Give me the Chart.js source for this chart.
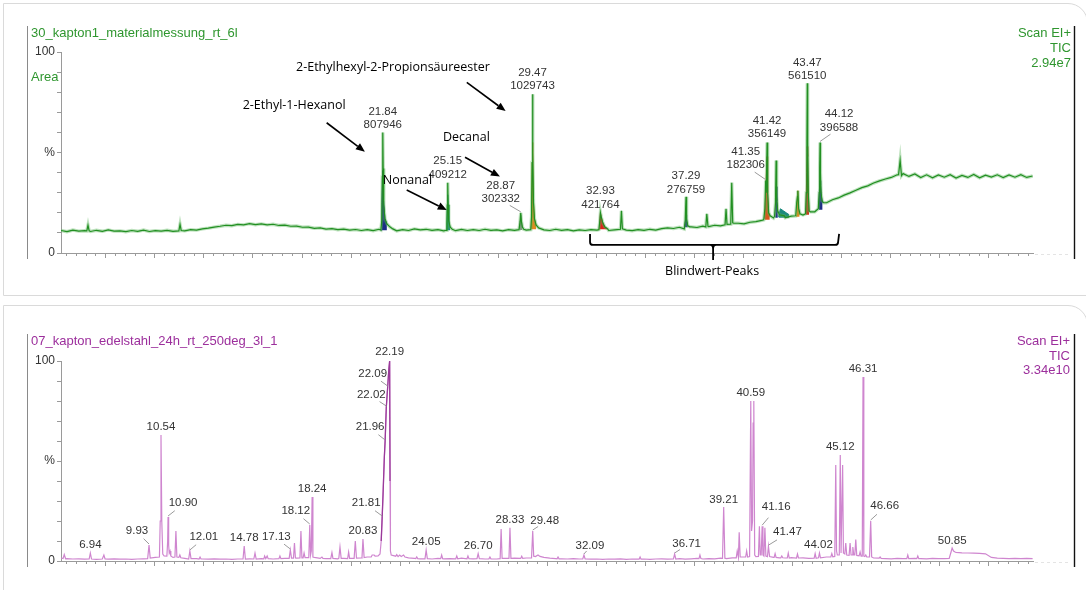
<!DOCTYPE html>
<html>
<head>
<meta charset="utf-8">
<script src="https://cdn.jsdelivr.net/npm/chart.js@4.4.1/dist/chart.umd.min.js"></script>
<style>
  html, body { margin: 0; padding: 0; background: #fff; width: 1086px; height: 590px; overflow: hidden; }
  .panel { position: absolute; left: 3px; width: 1085px; border: 1.5px solid #dadada; border-top-right-radius: 20px; box-sizing: border-box; }
  #p1 { top: 3px; height: 293px; }
  #p2 { top: 305px; height: 320px; }
  .box { position: absolute; left: 0; }
  #b1 { top: 0; }
  #b2 { top: 300px; }
</style>
</head>
<body>
<div class="panel" id="p1"></div>
<div class="panel" id="p2"></div>
<div class="box" id="b1"><canvas id="c1" width="1086" height="295"></canvas></div>
<div class="box" id="b2"><canvas id="c2" width="1086" height="290"></canvas></div>
<script>
// Zeitachse (min) – beide Chromatogramme teilen dieselbe Skala
const X_MIN = 5.445, X_MAX = 54.97;
const SCAN_START = 5.45, SCAN_STEP = 0.3;
const TICK_START = 7.7, TICK_MAJOR = 2.5, TICK_MINOR = 0.5;
const yTickLabels = { 100: '100', 50: '%', 0: '0' };

// ---------- oben: 30_kapton1_materialmessung_rt_6l ----------
const topBase = [
  11.2, 10.6, 11.4, 10.9, 11.1, 10.7, 11.3, 10.8, 11.5, 10.9,
  11.0, 10.6, 11.2, 10.8, 11.4, 10.7, 11.1, 10.9, 11.3, 10.8,
  11.2, 11.0, 11.6, 11.4, 12.0, 12.4, 12.9, 13.3, 13.8, 13.6,
  14.2, 14.0, 14.6, 14.1, 14.5, 14.0, 14.3, 13.7, 13.9, 13.3,
  13.4, 12.8, 12.9, 12.3, 12.5, 11.9, 12.1, 11.6, 11.9, 11.4,
  11.7, 11.2, 11.6, 11.1, 11.8, 11.3, 11.5, 11.0, 11.6, 11.2,
  12.0, 11.5, 11.8, 11.3, 11.6, 11.0, 11.5, 11.1, 11.7, 11.2,
  11.6, 11.2, 11.8, 11.3, 11.5, 11.0, 11.6, 11.3, 11.8, 11.4,
  11.7, 11.1, 11.5, 11.2, 11.8, 11.3, 11.6, 11.0, 11.5, 11.2,
  11.6, 11.4, 11.9, 11.2, 11.5, 11.0, 11.4, 11.1, 11.6, 11.3,
  11.8, 11.4, 12.1, 12.5, 12.2, 12.8, 12.4, 13.0, 12.7, 13.4,
  13.1, 13.8, 13.5, 14.3, 14.0, 14.8, 14.5, 15.3, 15.6, 16.2,
  16.8, 17.4, 17.9, 17.5, 18.3, 18.0, 18.9, 19.4, 20.5, 22.0,
  25.0, 26.5, 27.4, 28.8, 29.9, 31.2, 32.5, 33.4, 34.8, 35.9,
  36.8, 37.6, 38.9, 39.5, 38.1, 39.3, 37.5, 38.9, 37.4, 38.8,
  37.7, 39.0, 37.3, 38.6, 37.6, 39.1, 37.4, 38.7, 37.8, 38.9,
  37.5, 38.8, 37.7, 39.0, 37.6, 38.3
];
const topPeaks = [
  [[6.76, 11], [6.82, 13.8], [6.88, 11]],
  [[11.45, 11], [11.51, 14.2], [11.57, 11.2]],
  [[21.74, 11.4], [21.79, 16], [21.82, 38], [21.84, 60], [21.86, 42], [21.89, 24], [21.95, 17], [22.05, 14.5], [22.2, 13], [22.35, 12]],
  [[25.07, 11.3], [25.11, 15], [25.13, 24], [25.15, 35], [25.17, 24], [25.2, 16], [25.27, 13], [25.38, 11.8]],
  [[28.78, 11.6], [28.83, 15], [28.87, 20], [28.9, 16], [28.95, 13], [29.02, 11.8]],
  [[29.38, 11.6], [29.42, 18], [29.45, 45], [29.47, 79], [29.49, 50], [29.52, 25], [29.57, 17], [29.65, 14], [29.78, 12.5]],
  [[32.85, 11.6], [32.9, 16], [32.93, 20], [32.97, 18], [33.05, 15], [33.15, 13], [33.3, 12]],
  [[33.95, 11.8], [34.0, 21], [34.05, 12]],
  [[37.2, 12], [37.25, 16], [37.29, 28], [37.32, 17], [37.38, 13.5], [37.48, 13]],
  [[38.3, 13], [38.35, 19.5], [38.41, 13.3]],
  [[39.28, 14], [39.33, 22], [39.38, 14.2]],
  [[39.57, 14.3], [39.62, 35], [39.67, 15], [39.72, 14.8]],
  [[41.25, 16.5], [41.31, 22], [41.35, 36], [41.38, 30], [41.42, 55], [41.45, 30], [41.5, 20], [41.58, 18.5]],
  [[41.8, 18.2], [41.85, 25], [41.88, 46], [41.91, 28], [41.96, 21], [42.05, 19], [42.3, 18.5]],
  [[42.88, 18.5], [42.93, 25], [42.97, 28], [42.99, 31], [43.03, 22], [43.1, 19.5]],
  [[43.38, 19.5], [43.42, 30], [43.45, 55], [43.47, 84.5], [43.49, 55], [43.52, 30], [43.56, 21], [43.62, 20.5]],
  [[44.03, 22], [44.08, 30], [44.1, 42], [44.12, 55], [44.14, 40], [44.17, 30], [44.22, 26], [44.3, 25]],
  [[48.12, 39], [48.2, 46], [48.27, 38.5]]
];
// integrierte Peakflächen (farbig)
const topFills = [
  [[21.76, 11.4], [21.8, 25], [21.83, 41], [21.85, 41], [21.88, 26], [21.95, 17], [22.05, 14.5]],
  [[25.1, 11.5], [25.13, 24], [25.15, 29], [25.17, 24], [25.21, 15], [25.28, 12.5]],
  [[28.8, 11.8], [28.84, 16], [28.87, 19], [28.9, 16], [28.96, 12.5]],
  [[29.41, 12], [29.45, 45], [29.47, 55], [29.49, 50], [29.52, 25], [29.57, 17], [29.66, 13.5]],
  [[32.87, 12], [32.9, 16], [32.93, 20], [32.97, 18], [33.05, 15], [33.15, 13], [33.28, 12]],
  [[37.23, 13], [37.27, 17], [37.29, 19], [37.32, 16], [37.38, 13.5]],
  [[41.3, 17], [41.35, 30], [41.4, 45], [41.42, 48], [41.45, 30], [41.5, 20], [41.56, 18]],
  [[41.84, 18], [41.87, 30], [41.89, 33], [41.92, 26], [41.97, 20]],
  [[42.0, 18], [42.1, 22], [42.25, 21], [42.4, 20], [42.55, 19]],
  [[42.9, 18.5], [42.94, 25], [42.99, 31], [43.03, 22], [43.08, 19]],
  [[43.4, 19.5], [43.44, 40], [43.47, 53], [43.49, 48], [43.52, 30], [43.56, 21]],
  [[44.05, 22], [44.09, 32], [44.12, 36], [44.15, 34], [44.19, 28], [44.25, 25]]
];
const topFillBase = [11.3, 11.3, 11.5, 11.8, 11.8, 12.8, 16.5, 17.5, 17.5, 18, 19, 21.5];
const topFillColors = ['#1c2d86', '#1a8a7e', '#8d8d8d', '#e38a1d', '#e3211c', '#1c2d86',
  '#d9561d', '#1c2d86', '#1a8a7e', '#e38a1d', '#d0321c', '#1c2d86'];

const topLabelTimes = ['21.84', '25.15', '28.87', '29.47', '32.93', '37.29', '41.35', '41.42', '43.47', '44.12'];
const topLabelAreas = ['807946', '409212', '302332', '1029743', '421764', '276759', '182306', '356149', '561510', '396588'];
const topLabelApex = [[21.84, 60], [25.15, 35], [28.87, 20], [29.47, 79], [32.93, 20], [37.29, 28], [41.35, 36], [41.42, 55], [43.47, 84.5], [44.12, 55]];
const topLabelShift = [[0, -7.5], [0, -8], [-20, -13.5], [0, -8], [0, -8], [0, -7], [-20, -15.5], [0, -8.5], [0, -7], [19, -15]];

// Substanz-Annotationen (Text links/mitte, Pfeil von -> nach), in (min, %)
const noteTexts = ['2-Ethylhexyl-2-Propionsäureester', '2-Ethyl-1-Hexanol', 'Decanal', 'Nonanal'];
const noteAt = [[17.42, 92.5], [14.70, 73.6], [24.91, 57.7], [21.84, 36.3]];
const arrowFrom = [[26.12, 84.9], [18.98, 64.8], [26.03, 47.6], [23.06, 31.3]];
const arrowTo = [[28.10, 70.6], [20.93, 50.4], [27.81, 38.0], [25.10, 21.4]];
const blankText = 'Blindwert-Peaks';
const blankRange = [32.40, 38.67, 45.04];

// ---------- unten: 07_kapton_edelstahl_24h_rt_250deg_3l_1 ----------
const botBase = [
  1.5, 1.2, 1.0, 1.1, 0.9, 1.0, 0.8, 1.0, 0.9, 1.1,
  0.9, 1.0, 0.8, 1.0, 1.1, 1.3, 1.8, 2.2, 2.0, 1.8,
  1.6, 1.3, 1.1, 1.2, 1.0, 0.9, 1.1, 0.9, 1.0, 0.8,
  1.0, 0.9, 1.1, 1.0, 1.2, 0.9, 1.0, 1.1, 1.3, 1.2,
  1.4, 1.6, 1.5, 1.8, 1.3, 1.2, 1.4, 1.1, 1.3, 1.2,
  1.4, 1.6, 2.0, 2.6, 2.5, 2.8, 2.4, 2.6, 2.0, 1.6,
  1.3, 1.1, 1.2, 1.0, 1.3, 1.1, 1.2, 1.0, 1.4, 1.2,
  1.1, 1.3, 1.0, 1.2, 1.0, 1.3, 1.1, 1.4, 1.2, 1.5,
  2.2, 2.5, 1.8, 1.4, 1.2, 1.1, 1.0, 1.2, 1.0, 1.1,
  0.9, 1.0, 0.8, 1.0, 0.9, 1.1, 0.8, 1.0, 0.9, 1.0,
  0.8, 1.0, 1.1, 0.9, 1.0, 1.2, 0.9, 1.1, 1.3, 1.0,
  1.2, 1.1, 1.4, 1.2, 1.6, 1.8, 2.0, 2.2, 2.5, 2.2,
  2.0, 1.8, 1.6, 1.5, 1.7, 1.4, 1.6, 1.3, 1.5, 1.8,
  2.0, 2.2, 2.5, 2.8, 2.4, 2.6, 2.2, 1.8, 1.5, 1.3,
  1.2, 1.1, 1.3, 1.2, 1.4, 1.3, 1.2, 1.1, 1.3, 1.2,
  1.2, 1.3, 4.3, 4.1, 4.0, 3.9, 3.8, 3.6, 1.8, 1.4,
  1.3, 1.2, 1.3, 1.2, 1.3, 1.2
];
const mainPeak = [[21.6, 2.5], [21.7, 3.5], [21.76, 10], [21.81, 22], [21.86, 35], [21.92, 52], [21.96, 60],
  [22.02, 77], [22.09, 87], [22.15, 96], [22.19, 100], [22.21, 40], [22.23, 5], [22.27, 3]];
const botPeaks = [
  [[5.55, 1.2], [5.61, 3.2], [5.68, 1.1]],
  [[6.88, 1.0], [6.94, 4.0], [7.0, 1.0]],
  [[7.57, 1.0], [7.63, 3.0], [7.69, 1.0]],
  [[9.86, 1.2], [9.93, 8.0], [9.99, 1.5]],
  [[10.46, 2.0], [10.5, 20], [10.54, 63], [10.58, 20], [10.63, 3.5], [10.7, 2.5]],
  [[10.84, 2.4], [10.88, 10], [10.9, 22], [10.93, 8], [10.96, 4], [11.0, 5], [11.04, 2.5]],
  [[11.25, 2.0], [11.3, 15], [11.35, 2.0], [11.45, 1.8], [11.5, 3.0], [11.55, 1.6]],
  [[11.95, 1.0], [12.01, 5], [12.07, 1.2]],
  [[12.48, 1.0], [12.53, 2], [12.58, 1.0]],
  [[14.72, 1.0], [14.78, 7.5], [14.84, 1.0]],
  [[15.27, 1.0], [15.33, 4], [15.39, 1.0]],
  [[15.78, 1.1], [15.82, 2.5], [15.88, 1.2], [15.95, 2.5], [16.0, 1.2]],
  [[16.55, 1.2], [16.6, 2.5], [16.65, 1.2]],
  [[17.07, 1.3], [17.13, 5.5], [17.19, 1.4]],
  [[17.29, 1.4], [17.34, 9], [17.39, 1.5]],
  [[17.62, 1.5], [17.67, 15], [17.72, 1.6], [17.78, 1.6], [17.83, 4], [17.88, 1.7]],
  [[18.07, 1.7], [18.12, 18], [18.16, 3], [18.2, 5], [18.24, 32], [18.28, 2.0]],
  [[18.69, 1.3], [18.74, 2], [18.79, 1.3]],
  [[19.19, 1.2], [19.25, 4.2], [19.3, 1.3]],
  [[19.6, 1.3], [19.66, 7], [19.72, 1.3]],
  [[20.05, 1.2], [20.1, 4.5], [20.15, 1.3]],
  [[20.38, 1.3], [20.44, 10], [20.5, 1.4]],
  [[20.78, 1.5], [20.83, 11], [20.89, 1.7]],
  [[21.25, 2.0], [21.3, 3], [21.4, 3], [21.45, 2.4]],
  mainPeak,
  [[22.5, 2.4], [22.55, 3.2], [22.62, 2.2], [22.7, 3.0], [22.78, 2.3], [22.9, 3.0], [22.97, 2.0]],
  [[23.52, 1.2], [23.57, 2], [23.62, 1.2]],
  [[23.99, 1.1], [24.05, 5.4], [24.11, 1.2]],
  [[24.79, 1.2], [24.84, 3], [24.89, 1.2]],
  [[25.56, 1.1], [25.61, 2.5], [25.66, 1.1]],
  [[26.13, 1.1], [26.18, 2.5], [26.23, 1.2]],
  [[26.64, 1.2], [26.7, 3.7], [26.76, 1.2]],
  [[27.25, 1.1], [27.3, 2], [27.35, 1.1]],
  [[27.82, 1.2], [27.87, 16], [27.92, 1.3]],
  [[28.27, 1.3], [28.32, 16.6], [28.37, 1.3]],
  [[28.87, 1.3], [28.92, 2.4], [28.97, 1.3]],
  [[29.42, 1.5], [29.48, 15], [29.53, 2.4], [29.62, 2.2], [29.75, 3], [29.85, 2.3]],
  [[30.72, 1.1], [30.77, 2], [30.82, 1.1]],
  [[32.03, 1.0], [32.09, 3], [32.15, 1.0]],
  [[34.9, 0.9], [34.95, 2], [35.0, 0.9]],
  [[36.65, 1.0], [36.71, 3.5], [36.77, 1.0]],
  [[37.95, 1.2], [38.0, 3], [38.05, 1.2]],
  [[39.15, 1.3], [39.21, 27], [39.27, 1.4]],
  [[39.85, 1.6], [39.9, 5], [39.96, 1.8], [40.0, 14.4], [40.05, 2]],
  [[40.33, 2.0], [40.38, 5], [40.43, 2.0]],
  [[40.53, 2.2], [40.59, 80], [40.63, 15], [40.68, 20], [40.71, 69], [40.745, 80], [40.79, 3], [40.85, 2.2]],
  [[40.98, 2.3], [41.03, 17.4], [41.07, 3], [41.12, 3], [41.17, 17.4], [41.21, 3], [41.26, 2.5], [41.31, 16.6],
   [41.36, 2.5], [41.44, 2.2], [41.49, 7.4], [41.55, 2.2]],
  [[41.78, 1.8], [41.83, 3.7], [41.88, 1.8]],
  [[42.12, 1.6], [42.17, 2.5], [42.22, 1.6]],
  [[42.45, 1.5], [42.5, 4], [42.55, 1.5]],
  [[42.92, 1.5], [42.97, 3.5], [43.02, 1.5]],
  [[43.82, 1.4], [43.87, 3.7], [43.92, 1.4], [44.04, 1.6], [44.09, 4], [44.14, 1.6]],
  [[44.67, 2.0], [44.72, 3.7], [44.77, 2.1], [44.87, 2.3], [44.92, 48], [44.96, 5], [45.0, 3], [45.1, 3],
   [45.15, 53], [45.19, 4], [45.23, 4], [45.27, 48], [45.31, 4], [45.38, 3.5], [45.43, 9], [45.48, 3],
   [45.6, 2.8], [45.65, 9], [45.7, 3], [45.75, 3], [45.79, 7], [45.84, 3], [45.89, 3], [45.94, 10.7],
   [45.99, 2.8], [46.11, 2.6], [46.16, 4.5], [46.21, 2.4], [46.27, 2.4], [46.31, 92], [46.35, 2.4],
   [46.4, 2.2], [46.45, 3], [46.5, 2.0], [46.64, 2.0], [46.7, 20], [46.75, 2.0]],
  [[47.13, 1.4], [47.18, 2], [47.23, 1.3]],
  [[48.54, 1.2], [48.59, 3], [48.64, 1.2]],
  [[49.05, 1.2], [49.1, 2.5], [49.15, 1.2]],
  [[50.7, 1.3], [50.78, 4], [50.85, 6.5], [50.92, 5], [51.0, 4.5]]
];
const botLabelTexts = ['6.94', '9.93', '10.54', '10.90', '12.01', '14.78', '17.13', '18.12', '18.24', '20.83',
  '21.81', '21.96', '22.02', '22.09', '22.19', '24.05', '26.70', '28.33', '29.48', '32.09',
  '36.71', '39.21', '40.59', '41.16', '41.47', '44.02', '45.12', '46.31', '46.66', '50.85'];
const botLabelApex = [[6.94, 4], [9.93, 8], [10.54, 63], [10.9, 22], [12.01, 5], [14.78, 7.5], [17.13, 5.5], [18.12, 18], [18.24, 32], [20.83, 11],
  [21.81, 22], [21.96, 60], [22.02, 77], [22.09, 87], [22.19, 100], [24.05, 5.4], [26.7, 3.7], [28.32, 16.6], [29.48, 15], [32.09, 3],
  [36.71, 3.5], [39.21, 27], [40.59, 80], [41.17, 17.4], [41.49, 7.4], [44.09, 4], [45.15, 53], [46.31, 92], [46.7, 20], [50.85, 6.5]];
const botLabelShift = [[0, -8], [-12, -14], [0, -8], [15, -14], [14, -14], [0, -8], [-14, -13], [-14, -14], [0, -8], [0, -8],
  [-16, -14], [-15, -14], [-15, -12], [-15, -13], [0, -9], [0, -8], [0, -8], [0, -8], [12, -10], [6, -9],
  [12, -10], [0, -7], [0, -8], [14, -19], [19, -14], [-1, -8], [0, -8], [0, -8], [14, -15], [0, -7]];

// ---------- Hilfsfunktionen ----------
function buildTrace(base, peaks) {
  const pts = base.map((v, i) => ({ x: +(SCAN_START + i * SCAN_STEP).toFixed(3), y: v }));
  const wins = peaks.map(p => [p[0][0], p[p.length - 1][0]]);
  const kept = pts.filter(p => !wins.some(w => p.x >= w[0] - 0.02 && p.x <= w[1] + 0.02));
  peaks.forEach(pk => pk.forEach(([x, y]) => kept.push({ x, y })));
  return kept.sort((a, b) => a.x - b.x);
}
const toXY = pts => pts.map(([x, y]) => ({ x, y }));

function text(ctx, s, x, y, font, color, align) {
  ctx.font = font; ctx.fillStyle = color;
  ctx.textAlign = align || 'left'; ctx.textBaseline = 'middle';
  ctx.fillText(s, x, y);
}

function drawXTicks(chart) {
  const { ctx, chartArea: a, scales: { x } } = chart;
  ctx.save();
  ctx.strokeStyle = '#9a9a9a'; ctx.lineWidth = 1;
  const n0 = Math.floor((TICK_START - X_MIN) / TICK_MINOR);
  for (let k = -n0; TICK_START + k * TICK_MINOR <= X_MAX + 1e-6; k++) {
    const px = Math.round(x.getPixelForValue(TICK_START + k * TICK_MINOR)) + 0.5;
    const major = k % 5 === 0;
    ctx.beginPath(); ctx.moveTo(px, a.bottom); ctx.lineTo(px, a.bottom + (major ? 5 : 3)); ctx.stroke();
  }
  // blasse Fortsetzung rechts vom Achsenende
  ctx.strokeStyle = '#e4e4e4'; ctx.setLineDash([3, 3]);
  ctx.beginPath(); ctx.moveTo(a.right + 2, a.bottom + 1.5); ctx.lineTo(a.right + 36, a.bottom + 1.5); ctx.stroke();
  ctx.restore();
}

function drawLeader(ctx, ax, ay, dx, dy, k) {
  ctx.save(); ctx.strokeStyle = '#9a9a9a'; ctx.lineWidth = 1;
  ctx.beginPath(); ctx.moveTo(ax, ay - 1); ctx.lineTo(ax + dx * k, ay + dy * k); ctx.stroke();
  ctx.restore();
}

function drawArrow(ctx, x1, y1, x2, y2) {
  const ang = Math.atan2(y2 - y1, x2 - x1), L = 9, W = 3.8;
  ctx.save(); ctx.strokeStyle = '#000'; ctx.fillStyle = '#000'; ctx.lineWidth = 1.6;
  ctx.beginPath(); ctx.moveTo(x1, y1); ctx.lineTo(x2 - L * Math.cos(ang), y2 - L * Math.sin(ang)); ctx.stroke();
  ctx.beginPath(); ctx.moveTo(x2, y2);
  ctx.lineTo(x2 - L * Math.cos(ang) + W * Math.sin(ang), y2 - L * Math.sin(ang) - W * Math.cos(ang));
  ctx.lineTo(x2 - L * Math.cos(ang) - W * Math.sin(ang), y2 - L * Math.sin(ang) + W * Math.cos(ang));
  ctx.closePath(); ctx.fill();
  ctx.restore();
}

function frameLines(ctx, top, bottom) {
  ctx.save();
  ctx.strokeStyle = '#8a8a8a'; ctx.lineWidth = 1;
  ctx.beginPath(); ctx.moveTo(27.5, top); ctx.lineTo(27.5, bottom); ctx.stroke();
  ctx.strokeStyle = '#111'; ctx.lineWidth = 1.4;
  ctx.beginPath(); ctx.moveTo(1074.5, top); ctx.lineTo(1074.5, bottom); ctx.stroke();
  ctx.restore();
}

function baseOptions(padTop, padBottom) {
  return {
    responsive: false,
    animation: false,
    events: [],
    layout: { padding: { left: 0, right: 53, top: padTop, bottom: padBottom } },
    elements: { point: { radius: 0 }, line: { tension: 0 } },
    plugins: { legend: { display: false }, tooltip: { enabled: false } },
    scales: {
      x: {
        type: 'linear', min: X_MIN, max: X_MAX,
        ticks: { display: false },
        grid: { drawOnChartArea: false, drawTicks: false },
        border: { color: '#9a9a9a' },
        afterFit: s => { s.height = 0; }
      },
      y: {
        min: 0, max: 100,
        ticks: {
          stepSize: 10, autoSkip: false, padding: 2, color: '#333',
          font: { family: 'Liberation Sans', size: 12 },
          callback: v => yTickLabels[v] || ''
        },
        grid: { drawOnChartArea: false, tickLength: 4, tickColor: '#9a9a9a' },
        border: { color: '#9a9a9a' },
        afterFit: s => { s.width = 61; }
      }
    }
  };
}

const LABEL_FONT = '11.5px "Liberation Sans", Arial, sans-serif';
const HEAD_FONT = '13px "Liberation Sans", Arial, sans-serif';
const NOTE_FONT = '12.5px "Open Sans", "Liberation Sans", sans-serif';

// ---------- Chart oben ----------
const GREEN = '#2f962f';
const topTrace = buildTrace(topBase, topPeaks);
const topDatasets = [
  { data: topTrace, borderColor: '#228f22', borderWidth: 1.2, fill: false, order: 0 },
  { data: topTrace, borderColor: 'rgba(90,180,90,0.4)', borderWidth: 3.4, fill: false, order: 1 }
];
topFills.forEach((f, i) => topDatasets.push({
  data: toXY(f), borderWidth: 1, borderColor: topFillColors[i], backgroundColor: topFillColors[i],
  fill: { value: topFillBase[i] }, order: 2
}));

new Chart(document.getElementById('c1'), {
  type: 'line',
  data: { datasets: topDatasets },
  options: baseOptions(52, 42),
  plugins: [{
    id: 'topDeco',
    afterDraw(chart) {
      const { ctx, scales: { x, y } } = chart;
      drawXTicks(chart);
      frameLines(ctx, 26, 259);
      text(ctx, '30_kapton1_materialmessung_rt_6l', 31, 33.5, HEAD_FONT, GREEN);
      text(ctx, 'Area', 31, 77, HEAD_FONT, GREEN);
      text(ctx, 'Scan EI+', 1071, 33, HEAD_FONT, GREEN, 'right');
      text(ctx, 'TIC', 1071, 48, HEAD_FONT, GREEN, 'right');
      text(ctx, '2.94e7', 1071, 63, HEAD_FONT, GREEN, 'right');

      topLabelTimes.forEach((t, i) => {
        const ax = x.getPixelForValue(topLabelApex[i][0]), ay = y.getPixelForValue(topLabelApex[i][1]);
        const [dx, dy] = topLabelShift[i];
        if (dx) drawLeader(ctx, ax, ay, dx, dy, 0.55);
        text(ctx, t, ax + dx, ay + dy - 13.5, LABEL_FONT, '#333', 'center');
        text(ctx, topLabelAreas[i], ax + dx, ay + dy, LABEL_FONT, '#333', 'center');
      });

      noteTexts.forEach((s, i) => {
        text(ctx, s, x.getPixelForValue(noteAt[i][0]), y.getPixelForValue(noteAt[i][1]), NOTE_FONT, '#000');
        drawArrow(ctx, x.getPixelForValue(arrowFrom[i][0]), y.getPixelForValue(arrowFrom[i][1]),
          x.getPixelForValue(arrowTo[i][0]), y.getPixelForValue(arrowTo[i][1]));
      });

      // Klammer "Blindwert-Peaks"
      const L = x.getPixelForValue(blankRange[0]), C = x.getPixelForValue(blankRange[1]), R = x.getPixelForValue(blankRange[2]);
      const yt = y.getPixelForValue(9.5), yb = y.getPixelForValue(4.0), ytip = y.getPixelForValue(-3.5);
      ctx.save(); ctx.strokeStyle = '#000'; ctx.lineWidth = 1.8;
      ctx.beginPath();
      ctx.moveTo(L, yt); ctx.lineTo(L, yb - 3); ctx.quadraticCurveTo(L, yb, L + 3, yb);
      ctx.lineTo(R - 3, yb); ctx.quadraticCurveTo(R, yb, R, yb - 3); ctx.lineTo(R + 1, yt);
      ctx.moveTo(C - 3, yb); ctx.quadraticCurveTo(C, yb, C, yb + 4); ctx.lineTo(C, ytip);
      ctx.moveTo(C + 3, yb); ctx.quadraticCurveTo(C, yb, C, yb + 4);
      ctx.stroke(); ctx.restore();
      text(ctx, blankText, C - 1, y.getPixelForValue(-8.95), NOTE_FONT, '#000', 'center');
    }
  }]
});

// ---------- Chart unten ----------
const PURPLE = '#9c2f9c';
new Chart(document.getElementById('c2'), {
  type: 'line',
  data: {
    datasets: [
      { data: toXY(mainPeak).filter(p => p.y > 5), borderColor: '#9a3a9a', borderWidth: 1.3, fill: false, order: 0 },
      { data: buildTrace(botBase, botPeaks), borderColor: '#cf86cf', borderWidth: 1.2, fill: false, order: 1 }
    ]
  },
  options: baseOptions(61, 29),
  plugins: [{
    id: 'botDeco',
    afterDraw(chart) {
      const { ctx, scales: { x, y } } = chart;
      drawXTicks(chart);
      frameLines(ctx, 34, 267);
      text(ctx, '07_kapton_edelstahl_24h_rt_250deg_3l_1', 31, 41.7, HEAD_FONT, PURPLE);
      text(ctx, 'Scan EI+', 1070, 41, HEAD_FONT, PURPLE, 'right');
      text(ctx, 'TIC', 1070, 56, HEAD_FONT, PURPLE, 'right');
      text(ctx, '3.34e10', 1070, 70, HEAD_FONT, PURPLE, 'right');

      botLabelTexts.forEach((t, i) => {
        const ax = x.getPixelForValue(botLabelApex[i][0]), ay = y.getPixelForValue(botLabelApex[i][1]);
        const [dx, dy] = botLabelShift[i];
        if (dx && Math.abs(dx) > 3) drawLeader(ctx, ax, ay, dx, dy, 0.45);
        text(ctx, t, ax + dx, ay + dy, LABEL_FONT, '#333', 'center');
      });
    }
  }]
});
</script>
</body>
</html>
